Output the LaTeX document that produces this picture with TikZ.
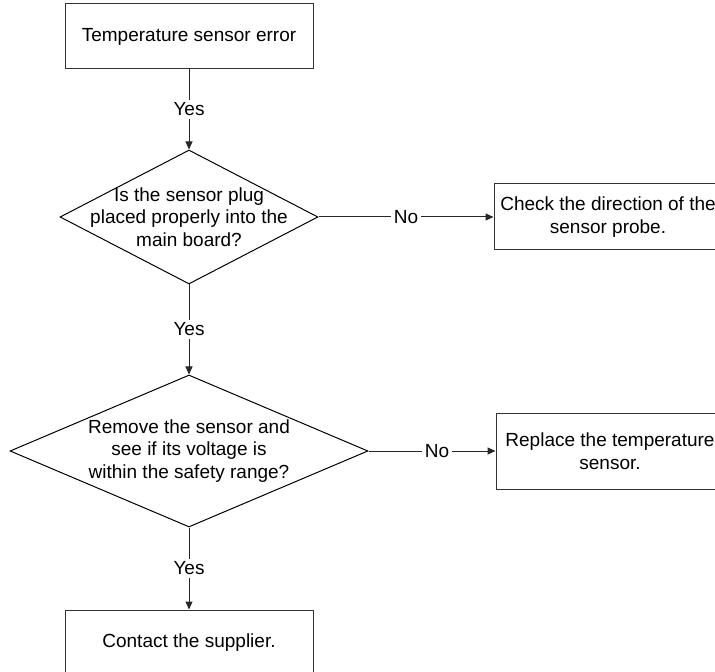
\documentclass[tikz,border=0pt]{standalone}
\usepackage{fontspec}
\setmainfont{Liberation Sans}
\usepackage{tikz}
\usetikzlibrary{
    arrows.meta,
    positioning,
    shapes.geometric
}
\tikzset{
    block/.style={
        rectangle,
        draw=black!80,
        line width=0.5pt,
        align=center,
        inner sep=2pt,
        minimum height=32.5pt,
        minimum width=124pt,
        font=\fontsize{9.5}{11.6}\selectfont
    },
    decision/.style={
        diamond,
        draw=black,
        line width=0.5pt,
        inner sep=0pt,
        minimum width=129pt,
        minimum height=67pt
    },
    inside/.style={
        align=center,
        inner sep=0pt,
        font=\fontsize{9.5}{11.3}\selectfont
    },
    arrow/.style={
        -{Triangle[length=4pt,width=3.5pt]},
        line width=0.5pt,
        draw=black!85
    },
    tag/.style={
        fill=white,
        inner sep=1.5pt,
        font=\fontsize{9.5}{11.3}\selectfont
    }
}

\begin{document}
\begin{tikzpicture}
\useasboundingbox (0,0) rectangle (357.5pt,-336pt);
\clip (0,0) rectangle (357.5pt,-336pt);

\node[block] (start) at (94.5pt,-18.25pt) {Temperature sensor error};

\node[decision, below=40pt of start,
      label={[inside]center:Is the sensor plug\\placed properly into the\\main board?}] (plugcheck) {};
\node[block, minimum width=114pt, minimum height=33pt, right=87.5pt of plugcheck] (plugfix) {Check the direction of the\\sensor probe.};

\node[decision, minimum width=179pt, minimum height=76pt, below=45pt of plugcheck,
      label={[inside]center:Remove the sensor and\\see if its voltage is\\within the safety range?}] (voltcheck) {};
\node[block, minimum width=114pt, minimum height=38pt, right=63.5pt of voltcheck] (replace) {Replace the temperature\\sensor.};

\node[block, below=41pt of voltcheck] (supplier) {Contact the supplier.};

\draw[arrow] (start) -- node[tag] {Yes} (plugcheck);
\draw[arrow] (plugcheck) -- node[tag] {No} (plugfix);
\draw[arrow] (plugcheck) -- node[tag] {Yes} (voltcheck);
\draw[arrow] (voltcheck) -- node[tag, pos=0.54] {No} (replace);
\draw[arrow] (voltcheck) -- node[tag] {Yes} (supplier);

\end{tikzpicture}
\end{document}
